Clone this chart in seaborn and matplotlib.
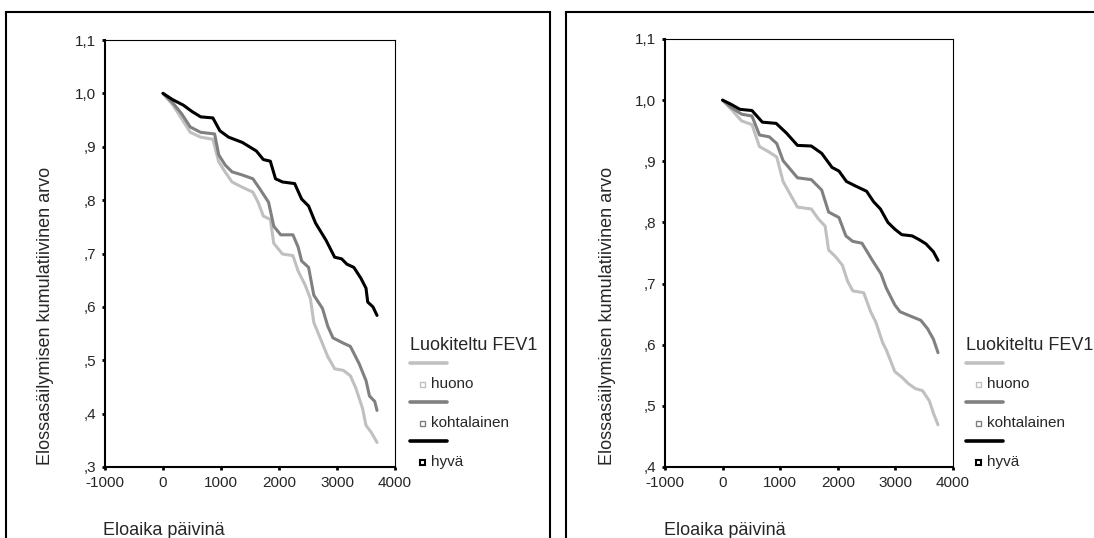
import matplotlib
matplotlib.use("Agg")
import matplotlib.pyplot as plt
import seaborn as sns
import pandas as pd
from matplotlib.lines import Line2D
from matplotlib.patches import Rectangle

# ==========================================
# Data
# ==========================================

groups = ["huono", "kohtalainen", "hyvä"]
legend_title = "Luokiteltu FEV1"
x_label = "Eloaika päivinä"
y_label = "Elossasäilymisen kumulatiivinen arvo"

x_ticks = [-1000, 0, 1000, 2000, 3000, 4000]
x_tick_labels = ["-1000", "0", "1000", "2000", "3000", "4000"]

y_ticks_left = [0.3, 0.4, 0.5, 0.6, 0.7, 0.8, 0.9, 1.0, 1.1]
y_tick_labels_left = [",3", ",4", ",5", ",6", ",7", ",8", ",9", "1,0", "1,1"]
y_ticks_right = [0.4, 0.5, 0.6, 0.7, 0.8, 0.9, 1.0, 1.1]
y_tick_labels_right = [",4", ",5", ",6", ",7", ",8", ",9", "1,0", "1,1"]

# left panel
t_left_huono = [0, 170, 320, 470, 650, 860, 960, 1070, 1190, 1370, 1550, 1640,
                1730, 1850, 1910, 2060, 2240, 2330, 2450, 2540, 2600, 2720,
                2840, 2960, 3110, 3230, 3320, 3440, 3500, 3590, 3690]
s_left_huono = [1.0, 0.978, 0.953, 0.927, 0.918, 0.914, 0.872, 0.853, 0.834,
                0.824, 0.815, 0.796, 0.770, 0.764, 0.719, 0.699, 0.696, 0.667,
                0.641, 0.616, 0.571, 0.539, 0.507, 0.484, 0.481, 0.471, 0.449,
                0.410, 0.378, 0.365, 0.346]

t_left_kohta = [0, 170, 320, 470, 650, 890, 960, 1070, 1190, 1370, 1550, 1670,
                1820, 1910, 2030, 2240, 2330, 2390, 2510, 2600, 2750, 2840,
                2930, 3110, 3230, 3380, 3500, 3560, 3650, 3690]
s_left_kohta = [1.0, 0.982, 0.962, 0.937, 0.927, 0.924, 0.885, 0.866, 0.853,
                0.847, 0.840, 0.821, 0.796, 0.751, 0.735, 0.735, 0.712, 0.686,
                0.674, 0.622, 0.597, 0.564, 0.542, 0.532, 0.526, 0.494, 0.462,
                0.433, 0.423, 0.406]

t_left_hyva = [0, 170, 350, 500, 650, 860, 980, 1130, 1370, 1610, 1730, 1850,
               1940, 2060, 2270, 2390, 2510, 2630, 2810, 2960, 3080, 3170,
               3290, 3410, 3500, 3530, 3620, 3690]
s_left_hyva = [1.0, 0.988, 0.978, 0.966, 0.956, 0.954, 0.930, 0.918, 0.908,
               0.892, 0.876, 0.873, 0.840, 0.834, 0.831, 0.802, 0.789, 0.757,
               0.725, 0.693, 0.690, 0.680, 0.674, 0.654, 0.635, 0.609, 0.600,
               0.584]

# right panel
t_right_huono = [0, 150, 330, 510, 640, 810, 940, 1050, 1180, 1300, 1540, 1660,
                 1780, 1840, 1960, 2080, 2170, 2260, 2450, 2570, 2660, 2780,
                 2840, 2990, 3110, 3230, 3350, 3470, 3590, 3660, 3740]
s_right_huono = [1.0, 0.985, 0.966, 0.960, 0.924, 0.915, 0.907, 0.867, 0.845,
                 0.825, 0.822, 0.806, 0.794, 0.755, 0.744, 0.730, 0.704, 0.688,
                 0.685, 0.654, 0.637, 0.603, 0.592, 0.556, 0.547, 0.536, 0.528,
                 0.525, 0.508, 0.488, 0.469]

t_right_kohta = [0, 150, 330, 510, 640, 810, 940, 1050, 1300, 1540, 1720, 1840,
                 2020, 2140, 2260, 2420, 2600, 2750, 2840, 2990, 3080, 3230,
                 3440, 3560, 3660, 3740]
s_right_kohta = [1.0, 0.988, 0.977, 0.974, 0.943, 0.940, 0.929, 0.901, 0.873,
                 0.870, 0.853, 0.817, 0.808, 0.778, 0.769, 0.766, 0.738, 0.716,
                 0.693, 0.665, 0.654, 0.648, 0.640, 0.626, 0.609, 0.587]

t_right_hyva = [0, 150, 300, 510, 690, 930, 1110, 1300, 1540, 1720, 1900, 2020,
                2150, 2320, 2500, 2620, 2740, 2870, 2990, 3110, 3290, 3410,
                3530, 3660, 3740]
s_right_hyva = [1.0, 0.993, 0.985, 0.983, 0.964, 0.962, 0.946, 0.926, 0.925,
                0.913, 0.890, 0.884, 0.867, 0.859, 0.851, 0.834, 0.822, 0.800,
                0.789, 0.780, 0.778, 0.772, 0.765, 0.752, 0.738]

colors = {"huono": "#c0c0c0", "kohtalainen": "#808080", "hyvä": "#000000"}

# ==========================================
# Building long tables for seaborn
# ==========================================

def make_frame(series):
    parts = []
    for name, (t, s) in zip(groups, series):
        parts.append(pd.DataFrame({"t": t, "s": s, "ryhma": name}))
    return pd.concat(parts, ignore_index=True)

df_left = make_frame([(t_left_huono, s_left_huono),
                      (t_left_kohta, s_left_kohta),
                      (t_left_hyva, s_left_hyva)])
df_right = make_frame([(t_right_huono, s_right_huono),
                       (t_right_kohta, s_right_kohta),
                       (t_right_hyva, s_right_hyva)])

# ==========================================
# Figure
# ==========================================

sns.set_style("white")
plt.rcParams["font.family"] = ["Liberation Sans", "DejaVu Sans"]

W, H = 1094, 538
fig = plt.figure(figsize=(W / 100, H / 100), dpi=100)


def fx(x):
    return x / W


def fy(y):
    return 1 - y / H


# outer frames of the two panels
fig.add_artist(Rectangle((fx(6), fy(560)), fx(550 - 6), (560 - 12) / H,
                         transform=fig.transFigure, fill=False,
                         edgecolor="black", linewidth=1.5))
fig.add_artist(Rectangle((fx(566), fy(560)), fx(1110 - 566), (560 - 12) / H,
                         transform=fig.transFigure, fill=False,
                         edgecolor="black", linewidth=1.5))

panels = [
    dict(df=df_left, rect=[fx(105), fy(467), fx(290), 427 / H],
         ylim=(0.3, 1.1), yt=y_ticks_left, ytl=y_tick_labels_left,
         ylab_x=46, xlab_x=103, leg_x=410),
    dict(df=df_right, rect=[fx(665), fy(467), fx(288), 428 / H],
         ylim=(0.4, 1.1), yt=y_ticks_right, ytl=y_tick_labels_right,
         ylab_x=607, xlab_x=664, leg_x=966),
]

for p in panels:
    ax = fig.add_axes(p["rect"])

    sns.lineplot(
        data=p["df"], x="t", y="s", hue="ryhma",
        hue_order=groups, palette=colors,
        estimator=None, sort=False, linewidth=2.2,
        legend=False, ax=ax
    )

    ax.set_xlim(-1000, 4000)
    ax.set_ylim(*p["ylim"])
    ax.set_xticks(x_ticks, x_tick_labels)
    ax.set_yticks(p["yt"], p["ytl"])
    ax.set_xlabel("")
    ax.set_ylabel("")
    ax.tick_params(axis="both", direction="out", length=2.5, width=2.0,
                   color="black", labelsize=11, pad=4,
                   left=True, bottom=True)
    for side in ["left", "bottom"]:
        ax.spines[side].set_linewidth(1.5)
    for side in ["top", "right"]:
        ax.spines[side].set_linewidth(0.8)
    for sp in ax.spines.values():
        sp.set_color("black")

    # axis titles
    fig.text(fx(p["ylab_x"]), fy(316), y_label, rotation=90,
             ha="center", va="center", fontsize=13)
    fig.text(fx(p["xlab_x"]), fy(535), x_label,
             ha="left", va="baseline", fontsize=13)

    # SPSS style legend
    x0 = p["leg_x"]
    fig.text(fx(x0), fy(345), legend_title, ha="left", va="center",
             fontsize=13)
    for i, name in enumerate(groups):
        yl = 363 + 39 * i
        fig.add_artist(Line2D([fx(x0), fx(x0 + 37)], [fy(yl), fy(yl)],
                              transform=fig.transFigure,
                              color=colors[name], linewidth=2.6))
        fig.add_artist(Line2D([fx(x0 + 12)], [fy(yl + 21)],
                              transform=fig.transFigure, linestyle="none",
                              marker="s", markersize=3.6,
                              markerfacecolor="white",
                              markeredgecolor=colors[name],
                              markeredgewidth=1.5 if name == "hyvä" else 1.0))
        fig.text(fx(x0 + 21), fy(yl + 21), name, ha="left", va="center",
                 fontsize=11)

plt.savefig("out.png", dpi=100)
